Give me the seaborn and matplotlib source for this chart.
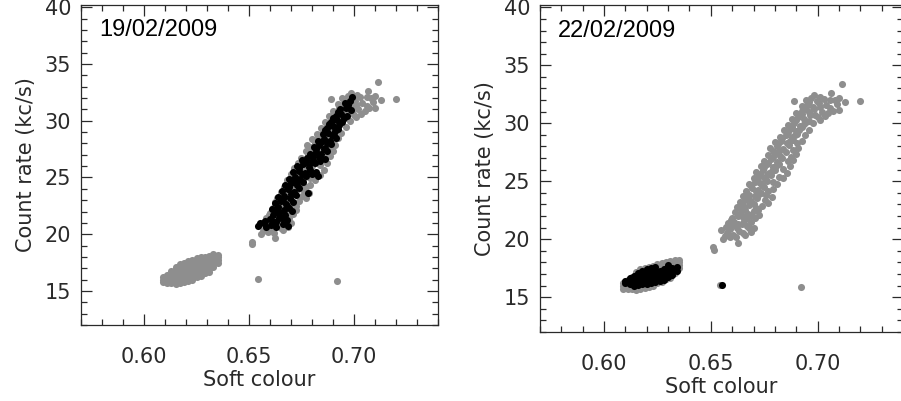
import numpy as np
import pandas as pd
import matplotlib
matplotlib.use("Agg")
import matplotlib.pyplot as plt
import seaborn as sns
from matplotlib.ticker import MultipleLocator

# all observations (grey) - lower branch, columns keyed by soft colour
grey_cluster = {
    0.609: [15.75, 16.0, 16.2],
    0.611: [15.7, 15.95, 16.2, 16.45],
    0.613: [15.7, 15.95, 16.2, 16.45, 16.75],
    0.615: [15.65, 15.9, 16.15, 16.4, 16.65, 16.9, 17.15],
    0.617: [15.7, 15.95, 16.2, 16.45, 16.7, 16.95, 17.2, 17.4],
    0.619: [15.8, 16.05, 16.3, 16.55, 16.8, 17.05, 17.3, 17.5],
    0.621: [15.85, 16.1, 16.35, 16.6, 16.85, 17.1, 17.35, 17.6],
    0.623: [15.95, 16.2, 16.45, 16.7, 16.95, 17.2, 17.45, 17.7],
    0.625: [16.2, 16.45, 16.7, 16.95, 17.2, 17.45, 17.7, 17.9],
    0.627: [16.3, 16.55, 16.8, 17.05, 17.3, 17.55, 17.8, 17.95],
    0.629: [16.55, 16.8, 17.05, 17.3, 17.55, 17.8, 18.0],
    0.631: [16.7, 16.95, 17.2, 17.45, 17.7, 17.95, 18.1],
    0.633: [17.1, 17.35, 17.6, 17.85, 18.1, 18.25],
    0.635: [17.5, 17.75, 18.0, 18.2],
}

# all observations (grey) - upper branch, (soft colour, count rate) pairs
grey_band = [
    (0.6512, 19.3), (0.6516, 19.1), (0.6625, 19.7),
    (0.6555, 20.0), (0.6590, 20.2), (0.6575, 20.55), (0.6548, 20.8), (0.6605, 20.4),
    (0.6632, 20.7), (0.6660, 20.35), (0.6688, 20.6), (0.6702, 20.95),
    (0.6570, 21.05), (0.6598, 21.2), (0.6622, 20.95), (0.6645, 21.3), (0.6670, 21.1),
    (0.6610, 21.5), (0.6582, 21.4), (0.6655, 21.6), (0.6690, 21.45), (0.6708, 21.8),
    (0.6600, 21.85), (0.6628, 22.0), (0.6650, 21.95), (0.6675, 22.2), (0.6612, 22.35),
    (0.6642, 22.5), (0.6700, 22.4), (0.6725, 22.1),
    (0.6622, 22.8), (0.6655, 22.75), (0.6680, 22.95), (0.6710, 22.7), (0.6740, 22.9),
    (0.6635, 23.2), (0.6662, 23.4), (0.6690, 23.3), (0.6718, 23.55), (0.6770, 23.15),
    (0.6650, 23.75), (0.6680, 23.85), (0.6705, 23.7), (0.6735, 24.0), (0.6760, 23.8),
    (0.6785, 23.6), (0.6665, 24.2), (0.6695, 24.4), (0.6722, 24.25), (0.6750, 24.5),
    (0.6790, 24.3),
    (0.6680, 24.75), (0.6708, 24.9), (0.6738, 24.7), (0.6765, 25.0), (0.6812, 24.8),
    (0.6700, 25.3), (0.6728, 25.45), (0.6755, 25.2), (0.6782, 25.5), (0.6838, 25.25),
    (0.6712, 25.8), (0.6745, 25.95), (0.6772, 25.7), (0.6800, 26.0), (0.6855, 25.7),
    (0.6735, 26.3), (0.6762, 26.45), (0.6790, 26.2), (0.6820, 26.5), (0.6872, 26.3),
    (0.6748, 26.75), (0.6782, 26.95), (0.6808, 26.7), (0.6835, 27.0), (0.6885, 26.85),
    (0.6770, 27.3), (0.6800, 27.45), (0.6825, 27.2), (0.6852, 27.55), (0.6898, 27.35),
    (0.6778, 27.85), (0.6812, 28.0), (0.6840, 27.8), (0.6868, 28.1), (0.6910, 27.9),
    (0.6800, 28.35), (0.6830, 28.5), (0.6858, 28.3), (0.6885, 28.6), (0.6925, 28.45),
    (0.6822, 28.85), (0.6850, 29.0), (0.6878, 28.8), (0.6905, 29.1), (0.6940, 28.95),
    (0.6842, 29.4), (0.6870, 29.5), (0.6898, 29.3), (0.6925, 29.65), (0.6960, 29.45),
    (0.6862, 29.85), (0.6890, 30.0), (0.6918, 29.8), (0.6945, 30.15), (0.6980, 30.0),
    (0.7010, 30.3), (0.6880, 30.4), (0.6910, 30.55), (0.6938, 30.35), (0.6965, 30.7),
    (0.7000, 30.5), (0.7035, 30.6),
    (0.6900, 30.9), (0.6928, 31.1), (0.6958, 30.95), (0.6985, 31.25), (0.7020, 31.0),
    (0.7072, 31.1), (0.7098, 31.15), (0.6925, 31.45), (0.6950, 31.6), (0.6978, 31.4),
    (0.7005, 31.75), (0.7040, 31.55), (0.7090, 31.65), (0.7130, 31.85),
    (0.6890, 31.95), (0.6945, 32.0), (0.6970, 32.15), (0.6995, 31.95), (0.7060, 32.05),
    (0.7100, 32.2), (0.7200, 31.95), (0.6985, 32.45), (0.7012, 32.3), (0.7065, 32.6),
    (0.7116, 33.4),
    # second pass, filling between the rows above
    (0.6565, 20.3), (0.6618, 20.15), (0.6650, 20.55), (0.6592, 20.85), (0.6680, 20.95),
    (0.6625, 21.35), (0.6595, 21.65), (0.6668, 21.8), (0.6640, 22.2), (0.6690, 22.05),
    (0.6660, 22.55), (0.6722, 22.5), (0.6648, 23.0), (0.6700, 23.05), (0.6752, 23.4),
    (0.6672, 23.6), (0.6725, 23.9), (0.6710, 24.15), (0.6770, 24.2), (0.6688, 24.6),
    (0.6728, 24.85), (0.6790, 24.95), (0.6715, 25.1), (0.6765, 25.55), (0.6820, 25.35),
    (0.6730, 25.65), (0.6785, 25.85), (0.6750, 26.2), (0.6840, 26.1), (0.6770, 26.6),
    (0.6805, 26.35), (0.6860, 26.75), (0.6790, 27.05), (0.6875, 27.1), (0.6820, 27.6),
    (0.6790, 27.65), (0.6885, 27.7), (0.6815, 28.25), (0.6870, 28.45), (0.6905, 28.3),
    (0.6835, 28.7), (0.6892, 28.95), (0.6860, 29.25), (0.6915, 29.45), (0.6878, 29.7),
    (0.6935, 29.9), (0.6900, 30.25), (0.6960, 30.2), (0.6925, 30.8), (0.6990, 30.75),
    (0.7050, 30.85), (0.6945, 31.25), (0.7010, 31.4), (0.7060, 31.3), (0.6962, 31.85),
    (0.7030, 32.1), (0.7080, 32.0),
]

grey_outliers_x = [0.6541, 0.6921]
grey_outliers_y = [16.09, 15.86]

# 19/02/2009 (black), (soft colour, count rate) pairs
feb19 = [
    (0.6545, 20.75), (0.6552, 20.95), (0.6580, 20.65), (0.6605, 20.85), (0.6628, 20.6),
    (0.6660, 20.9), (0.6685, 20.7),
    (0.6575, 21.2), (0.6600, 21.35), (0.6630, 21.1), (0.6655, 21.45), (0.6680, 21.25),
    (0.6615, 21.7), (0.6645, 21.85), (0.6670, 21.65),
    (0.6610, 22.2), (0.6638, 22.4), (0.6665, 22.15), (0.6690, 22.35), (0.6705, 22.05),
    (0.6622, 22.75), (0.6650, 22.9), (0.6678, 22.65), (0.6708, 22.85),
    (0.6640, 23.25), (0.6668, 23.4), (0.6695, 23.2), (0.6722, 23.5), (0.6780, 23.6),
    (0.6655, 23.8), (0.6685, 23.95), (0.6712, 23.75), (0.6740, 24.05),
    (0.6672, 24.35), (0.6700, 24.5), (0.6728, 24.3), (0.6755, 24.6),
    (0.6690, 24.9), (0.6718, 25.05), (0.6745, 24.85), (0.6772, 25.15), (0.6830, 25.1),
    (0.6710, 25.45), (0.6738, 25.6), (0.6765, 25.4), (0.6792, 25.7), (0.6820, 25.5),
    (0.6730, 26.0), (0.6758, 26.15), (0.6785, 25.95), (0.6812, 26.25),
    (0.6750, 26.55), (0.6778, 26.7), (0.6805, 26.5), (0.6832, 26.8), (0.6860, 26.6),
    (0.6790, 27.1), (0.6818, 27.25), (0.6845, 27.05), (0.6872, 27.35),
    (0.6808, 27.7), (0.6835, 27.85), (0.6862, 27.6), (0.6890, 27.95),
    (0.6830, 28.25), (0.6858, 28.4), (0.6885, 28.2), (0.6912, 28.5),
    (0.6850, 28.8), (0.6878, 28.95), (0.6905, 28.75),
    (0.6870, 29.35), (0.6898, 29.5), (0.6925, 29.3),
    (0.6890, 29.9), (0.6918, 30.05), (0.6945, 29.85),
    (0.6912, 30.45), (0.6940, 30.6), (0.6965, 30.4),
    (0.6935, 31.0), (0.6962, 31.15), (0.6985, 30.95),
    (0.6955, 31.55), (0.6980, 31.7), (0.6990, 32.05),
    # second pass
    (0.6570, 20.95), (0.6618, 21.05), (0.6645, 21.4), (0.6632, 22.05), (0.6680, 22.5),
    (0.6660, 23.1), (0.6700, 23.55), (0.6690, 24.2), (0.6730, 24.65), (0.6705, 24.7),
    (0.6752, 25.3), (0.6800, 25.3), (0.6740, 25.85), (0.6798, 26.4), (0.6770, 26.35),
    (0.6840, 26.45), (0.6805, 27.0), (0.6855, 27.5), (0.6820, 27.5), (0.6870, 28.05),
    (0.6845, 28.1), (0.6895, 28.7), (0.6862, 29.15), (0.6910, 29.1), (0.6880, 29.7),
    (0.6930, 29.65), (0.6900, 30.25), (0.6950, 30.25), (0.6925, 30.8), (0.6970, 31.35),
]

# 22/02/2009 (black), columns keyed by soft colour
feb22 = {
    0.610: [16.2, 16.4],
    0.612: [16.1, 16.35, 16.65],
    0.614: [16.0, 16.3, 16.55, 16.85],
    0.616: [16.05, 16.3, 16.6, 16.9, 17.1],
    0.618: [16.1, 16.4, 16.65, 16.95, 17.3],
    0.620: [16.1, 16.35, 16.7, 17.0, 17.4],
    0.622: [16.2, 16.5, 16.8, 17.1, 17.5],
    0.624: [16.3, 16.6, 16.85, 17.2, 17.6],
    0.626: [16.4, 16.7, 17.0, 17.3],
    0.628: [16.5, 16.8, 17.1, 17.45],
    0.630: [16.75, 17.1, 17.4, 17.8],
    0.632: [16.9, 17.2, 17.5],
    0.634: [17.3, 17.6],
    0.655: [16.05],
}


def cols_to_df(d):
    return pd.DataFrame([(x, y) for x, ys in d.items() for y in ys], columns=["soft", "rate"])


grey = pd.concat([cols_to_df(grey_cluster),
                  pd.DataFrame(grey_band, columns=["soft", "rate"]),
                  pd.DataFrame({"soft": grey_outliers_x, "rate": grey_outliers_y})],
                 ignore_index=True)
days = {"19/02/2009": pd.DataFrame(feb19, columns=["soft", "rate"]),
        "22/02/2009": cols_to_df(feb22)}

sns.set_style("ticks")
plt.rcParams["font.family"] = ["DejaVu Sans"]

fig = plt.figure(figsize=(9.01, 4.01), dpi=100)
W, H = 901, 401
boxes = [(81, 5, 438, 325), (540, 5, 903, 332)]  # left, top, right, bottom in px

GREY = "#8e8e8e"
INK = "#2a2a2a"
for (l, t, r, b), (label, blk) in zip(boxes, days.items()):
    ax = fig.add_axes([l / W, 1 - b / H, (r - l) / W, (b - t) / H])
    sns.scatterplot(data=grey, x="soft", y="rate", color=GREY, s=26,
                    linewidth=0, ax=ax, legend=False)
    sns.scatterplot(data=blk, x="soft", y="rate", color="black", s=26,
                    linewidth=0, ax=ax, legend=False)
    ax.set_xlim(0.57, 0.74)
    ax.set_ylim(12, 40.2)
    ax.xaxis.set_minor_locator(MultipleLocator(0.01))
    ax.yaxis.set_minor_locator(MultipleLocator(1))
    ax.set_xticks([0.60, 0.65, 0.70])
    ax.set_xticklabels(["0.60", "0.65", "0.70"])
    ax.set_yticks([15, 20, 25, 30, 35, 40])
    ax.tick_params(which="both", direction="in", top=True, right=True,
                   width=0.9, color=INK)
    ax.tick_params(which="major", length=8)
    ax.tick_params(which="minor", length=4.5)
    ax.tick_params(axis="x", which="major", pad=16, labelsize=15, labelcolor=INK)
    ax.tick_params(axis="y", which="major", pad=7, labelsize=15, labelcolor=INK)
    for sp in ax.spines.values():
        sp.set_linewidth(0.9)
        sp.set_color(INK)
    ax.set_xlabel("Soft colour", fontsize=15, color=INK, labelpad=2)
    ax.set_ylabel("Count rate (kc/s)", fontsize=15, color=INK, labelpad=6)
    ax.text(0.05, 0.955, label, transform=ax.transAxes, ha="left", va="top",
            fontsize=17, family=["Liberation Sans", "DejaVu Sans"], color="black")

fig.savefig("out.png", dpi=100)
